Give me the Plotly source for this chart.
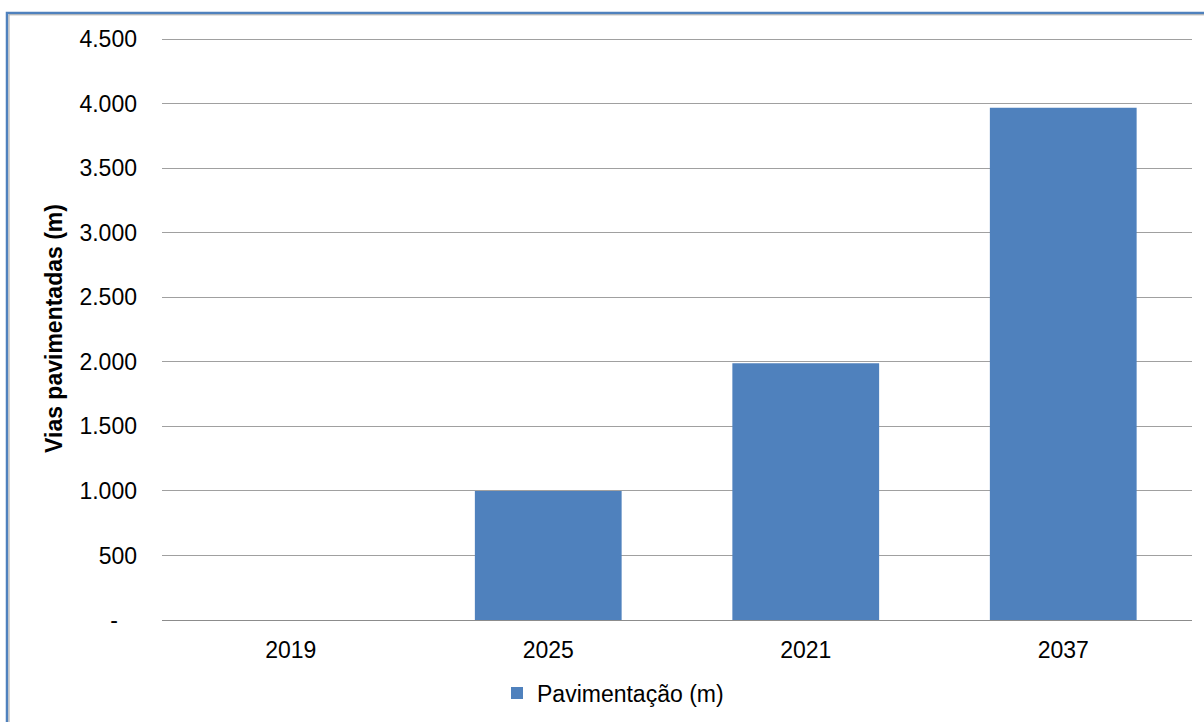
import plotly.graph_objects as go

categories = ["2019", "2025", "2021", "2037"]
values = [0, 1000, 1988, 3968]
series_name = "Pavimentação (m)"
tick_vals = [0, 500, 1000, 1500, 2000, 2500, 3000, 3500, 4000, 4500]
tick_text = ["-\u00a0\u00a0\u00a0", "500", "1.000", "1.500", "2.000", "2.500",
             "3.000", "3.500", "4.000", "4.500"]
y_title = "Vias pavimentadas (m)"

W, H = 1204, 722
L, R, T, B = 162, 12, 37, 102
pw, ph = W - L - R, H - T - B
y_top = 4500 * ph / (ph - 2)  # keep 4.500 gridline 2px below the plot top

def px(x):
    return (x - L) / pw

def py(y):
    return (H - B - y) / ph

font = "Liberation Sans, Arial, sans-serif"

fig = go.Figure()
fig.add_trace(go.Bar(
    x=categories, y=values, name=series_name,
    marker=dict(color="#4F81BD", line=dict(width=0)),
    showlegend=True,
))

fig.update_layout(
    width=W, height=H,
    margin=dict(l=L, r=R, t=T, b=B, autoexpand=False),
    paper_bgcolor="white", plot_bgcolor="white",
    bargap=0.43,
    font=dict(family=font, size=23, color="#000000"),
    showlegend=True,
    legend=dict(orientation="h", x=px(497), xanchor="left",
                y=py(693), yanchor="middle",
                font=dict(size=23), itemwidth=30,
                bgcolor="rgba(0,0,0,0)"),
    xaxis=dict(showline=True, linecolor="#8C8C8C", linewidth=1,
               ticks="", showgrid=False, tickfont=dict(size=23),
               ticklabelstandoff=9, automargin=False),
    yaxis=dict(range=[0, y_top], tickvals=tick_vals, ticktext=tick_text,
               showgrid=True, gridcolor="#A0A0A0", gridwidth=1,
               zeroline=False, showline=False, ticks="",
               tickfont=dict(size=23), ticklabelstandoff=24,
               automargin=False,
               title=dict(text="<b>" + y_title + "</b>", font=dict(size=23),
                          standoff=10)),
    shapes=[
        dict(type="rect", xref="paper", yref="paper",
             x0=px(7), x1=px(1215), y0=py(735), y1=py(13),
             line=dict(color="#4F81BD", width=2.5), layer="above"),
        dict(type="rect", xref="paper", yref="paper",
             x0=px(9), x1=px(1215), y0=py(735), y1=py(14.8),
             line=dict(color="#A6A6A6", width=1), layer="above"),
    ],
)

fig.write_html("out.html")
